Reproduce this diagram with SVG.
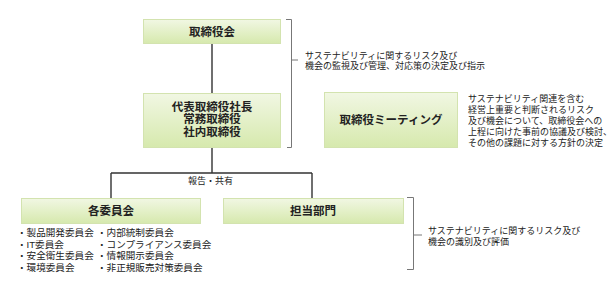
<svg xmlns="http://www.w3.org/2000/svg" width="612" height="287" viewBox="0 0 612 287">
<defs>
<linearGradient id="g" x1="0" y1="0" x2="0" y2="1">
<stop offset="0" stop-color="#f1f7e3"/>
<stop offset="1" stop-color="#d6e9ad"/>
</linearGradient>
<style>
.box{fill:url(#g);stroke:#d3e3af;stroke-width:1}
.t{font-family:"Liberation Sans","Noto Sans CJK JP",sans-serif;font-weight:bold;font-size:11.5px;fill:#222;text-anchor:middle}
.s{font-family:"Liberation Sans","Noto Sans CJK JP",sans-serif;font-size:9px;fill:#222}
.l{font-family:"Liberation Sans","Noto Sans CJK JP",sans-serif;font-size:9.6px;fill:#222}
.c{fill:none;stroke:#333;stroke-width:1.4}
.b{fill:none;stroke:#777;stroke-width:1}
</style>
</defs>
<rect width="612" height="287" fill="#fff"/>
<g id="connectors">
<path class="c" d="M212 43V93M212 147V173M111 173H312M111 173V198M312 173V198"/>
<text class="s" x="210.5" y="183.5" text-anchor="middle">報告・共有</text>
</g>
<g id="board">
<rect class="box" x="143.5" y="19.5" width="137" height="24"/>
<text class="t" x="212" y="35.5">取締役会</text>
</g>
<g id="executives">
<rect class="box" x="143.5" y="93.5" width="137" height="54"/>
<text class="t" font-size="10.9"><tspan x="212" y="111.2">代表取締役社長</tspan><tspan x="212" y="123.4">常務取締役</tspan><tspan x="212" y="135.6">社内取締役</tspan></text>
</g>
<g id="meeting">
<rect class="box" x="324.5" y="92.5" width="133" height="55"/>
<text class="t" x="391" y="123.5" font-size="11">取締役ミーティング</text>
</g>
<g id="committees">
<rect class="box" x="21.5" y="198.5" width="179" height="25"/>
<text class="t" x="111" y="214.5">各委員会</text>
<text class="l"><tspan x="17" y="236">・製品開発委員会</tspan><tspan x="17" y="247.7">・IT委員会</tspan><tspan x="17" y="259.4">・安全衛生委員会</tspan><tspan x="17" y="271">・環境委員会</tspan></text>
<text class="l"><tspan x="97" y="236">・内部統制委員会</tspan><tspan x="97" y="247.7">・コンプライアンス委員会</tspan><tspan x="97" y="259.4">・情報開示委員会</tspan><tspan x="97" y="271">・非正規販売対策委員会</tspan></text>
</g>
<g id="departments">
<rect class="box" x="223.5" y="198.5" width="180" height="25"/>
<text class="t" x="313" y="214.5">担当部門</text>
</g>
<g id="note-top">
<path class="b" d="M286 19.5H291.5V147.5H287M291.5 60H298"/>
<text class="s"><tspan x="305" y="58.5">サステナビリティに関するリスク及び</tspan><tspan x="305" y="69.2">機会の監視及び管理、対応策の決定及び指示</tspan></text>
</g>
<g id="note-meeting">
<text class="s"><tspan x="468" y="101.5">サステナビリティ関連を含む</tspan><tspan x="468" y="112.7">経営上重要と判断されるリスク</tspan><tspan x="468" y="123.9">及び機会について、取締役会への</tspan><tspan x="468" y="135.1">上程に向けた事前の協議及び検討、</tspan><tspan x="468" y="146.3">その他の課題に対する方針の決定</tspan></text>
</g>
<g id="note-bottom">
<path class="b" d="M407 197.5H413.5V269.5H407M413.5 235H422"/>
<text class="s"><tspan x="428" y="233.5">サステナビリティに関するリスク及び</tspan><tspan x="428" y="245">機会の識別及び評価</tspan></text>
</g>
</svg>
